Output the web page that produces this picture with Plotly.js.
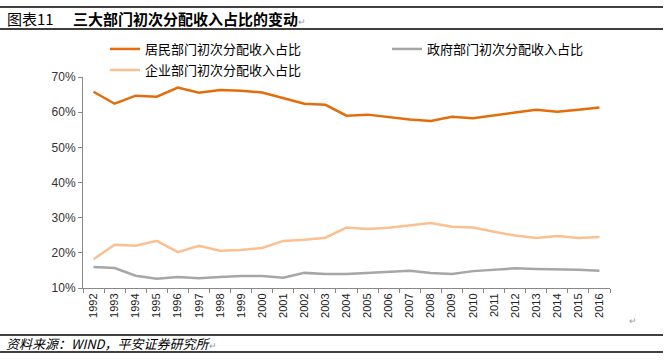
<!DOCTYPE html>
<html>
<head>
<meta charset="utf-8">
<script src="https://cdn.plot.ly/plotly-3.0.1.min.js"></script>
<style>html,body{margin:0;padding:0;background:#fff;}#chart{width:669px;height:360px;}</style>
</head>
<body>
<div id="chart"></div>
<script>
const years = ['1992','1993','1994','1995','1996','1997','1998','1999','2000','2001','2002','2003','2004','2005','2006','2007','2008','2009','2010','2011','2012','2013','2014','2015','2016'];
const residentShare = [65.8,62.4,64.7,64.4,67.0,65.5,66.3,66.1,65.6,64.1,62.4,62.1,59.0,59.3,58.6,57.9,57.5,58.7,58.3,59.0,59.9,60.7,60.1,60.7,61.3];
const governmentShare = [16.0,15.7,13.5,12.6,13.1,12.8,13.1,13.4,13.4,12.9,14.3,14.0,14.0,14.3,14.6,14.9,14.3,14.0,14.8,15.1,15.6,15.4,15.4,15.2,14.9];
const enterpriseShare = [18.2,22.3,22.0,23.4,20.2,22.0,20.6,20.8,21.4,23.4,23.7,24.3,27.2,26.8,27.1,27.7,28.5,27.4,27.2,26.0,24.9,24.2,24.8,24.2,24.5];
const names = ['居民部门初次分配收入占比','政府部门初次分配收入占比','企业部门初次分配收入占比'];
const yTicks = [10,20,30,40,50,60,70];
const yTickLabels = ['10%','20%','30%','40%','50%','60%','70%'];

const W = 669, H = 360;
const M = {l: 83, r: 59, t: 77, b: 72};
const pw = W - M.l - M.r, ph = H - M.t - M.b;
const px = X => (X - M.l) / pw;
const py = Y => (H - M.b - Y) / ph;

const cjk = '"Noto Sans CJK SC", "Noto Sans", sans-serif';
const lat = '"Liberation Sans", Arial, sans-serif';

const traces = [
  {x: years, y: residentShare, name: names[0], type: 'scatter', mode: 'lines',
   line: {color: '#E46C0A', width: 2.5}, legend: 'legend'},
  {x: years, y: governmentShare, name: names[1], type: 'scatter', mode: 'lines',
   line: {color: '#A6A6A6', width: 2.5}, legend: 'legend2'},
  {x: years, y: enterpriseShare, name: names[2], type: 'scatter', mode: 'lines',
   line: {color: '#FAC090', width: 2.5}, legend: 'legend3'}
];

const legendBox = (X, Yc) => ({x: px(X), y: py(Yc - 12), xanchor: 'left', yanchor: 'top', orientation: 'v',
  font: {family: cjk, size: 13, color: '#000'}, bgcolor: 'rgba(0,0,0,0)', borderwidth: 0, itemwidth: 30});

const hline = (Y) => ({type: 'line', xref: 'paper', yref: 'paper', x0: px(0), x1: px(663), y0: py(Y), y1: py(Y),
  line: {color: '#000', width: 1.5}});

const layout = {
  width: W, height: H,
  margin: M,
  paper_bgcolor: '#fff', plot_bgcolor: '#fff',
  font: {family: lat, size: 12, color: '#333'},
  showlegend: true,
  legend: legendBox(105, 46),
  legend2: legendBox(387, 46),
  legend3: legendBox(105, 67),
  xaxis: {type: 'category', tickmode: 'array', tickvals: years, ticktext: years,
    tickangle: -90, tickfont: {family: lat, size: 11, color: '#222'},
    showgrid: false, zeroline: false, showline: true, linecolor: '#888', linewidth: 1,
    ticks: 'outside', tickson: 'boundaries', ticklen: 4, tickcolor: '#888',
    range: [-0.5, years.length - 0.5], fixedrange: true},
  yaxis: {range: [10, 70], tickmode: 'array', tickvals: yTicks, ticktext: yTickLabels,
    tickfont: {family: lat, size: 12, color: '#333'},
    showgrid: false, zeroline: false, showline: true, linecolor: '#888', linewidth: 1,
    ticks: 'outside', ticklen: 4, tickcolor: '#888', fixedrange: true},
  shapes: [hline(7), hline(29), hline(335), hline(352)],
  annotations: [
    {xref: 'paper', yref: 'paper', x: px(5), y: py(18), xanchor: 'left', yanchor: 'middle', showarrow: false,
     text: '图表11', font: {family: cjk, size: 15, color: '#000'}},
    {xref: 'paper', yref: 'paper', x: px(71), y: py(18), xanchor: 'left', yanchor: 'middle', showarrow: false,
     text: '<b>三大部门初次分配收入占比的变动</b><span style="font-size:9px;color:#999">↵</span>', font: {family: cjk, size: 15, color: '#000'}},
    {xref: 'paper', yref: 'paper', x: px(4), y: py(343), xanchor: 'left', yanchor: 'middle', showarrow: false,
     text: '<i>资料来源：WIND，平安证券研究所</i><span style="font-size:9px;color:#999">↵</span>', font: {family: cjk, size: 13, color: '#000'}},
    {xref: 'paper', yref: 'paper', x: px(633), y: py(320), xanchor: 'center', yanchor: 'middle', showarrow: false,
     text: '↵', font: {family: cjk, size: 9, color: '#999'}}
  ]
};

Plotly.newPlot('chart', traces, layout, {displayModeBar: false, staticPlot: true});
</script>
</body>
</html>
